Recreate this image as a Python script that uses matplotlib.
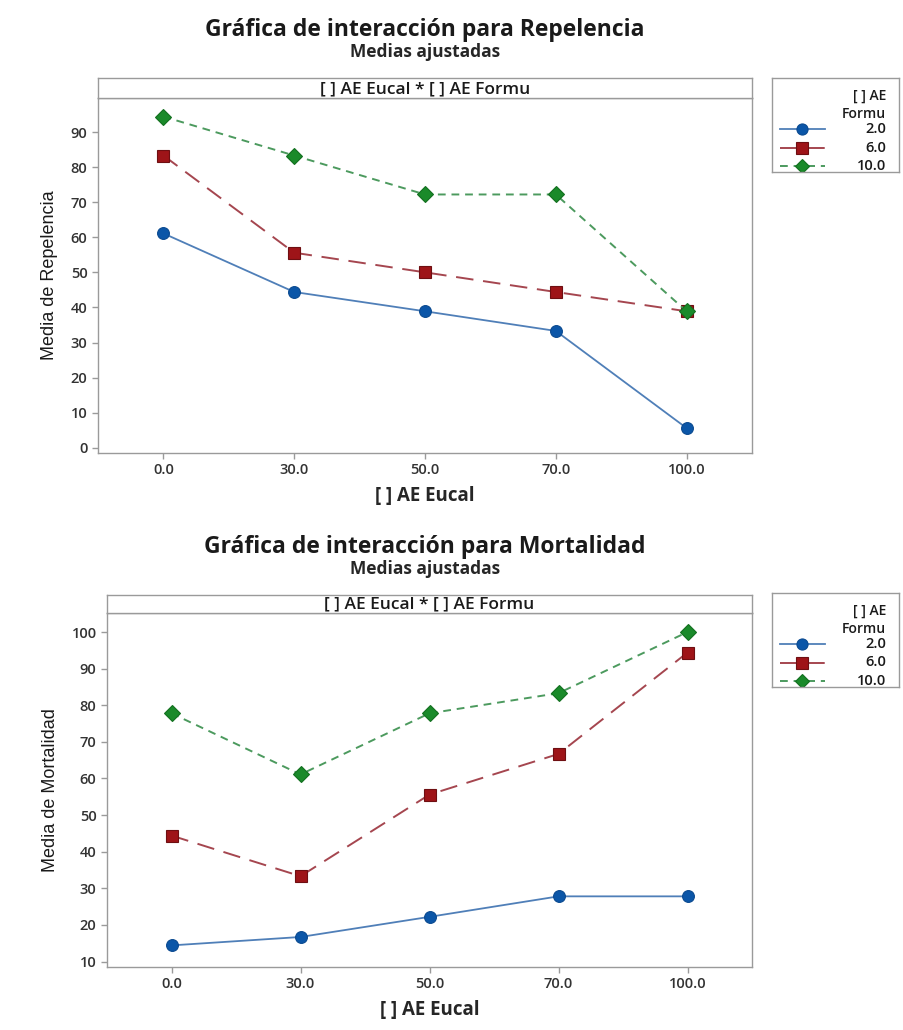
import matplotlib
matplotlib.use("Agg")
import matplotlib.pyplot as plt
from matplotlib.lines import Line2D

# ---- data ----
eucal_labels = ["0.0", "30.0", "50.0", "70.0", "100.0"]
formu_labels = ["2.0", "6.0", "10.0"]

repel_2 = [61.1, 44.4, 38.9, 33.3, 5.6]
repel_6 = [83.3, 55.6, 50.0, 44.4, 38.9]
repel_10 = [94.4, 83.3, 72.2, 72.2, 38.9]

mort_2 = [14.4, 16.7, 22.2, 27.8, 27.8]
mort_6 = [44.4, 33.3, 55.6, 66.7, 94.4]
mort_10 = [77.8, 61.1, 77.8, 83.3, 100.0]

repel_ticks = [0, 10, 20, 30, 40, 50, 60, 70, 80, 90]
mort_ticks = [10, 20, 30, 40, 50, 60, 70, 80, 90, 100]

W, H = 904, 1030
fig = plt.figure(figsize=(W / 100, H / 100), dpi=100)
FONT = ["Open Sans", "DejaVu Sans"]
plt.rcParams["font.family"] = FONT

GRAY = "#9a9a9a"
TXT = "#333333"

styles = [
    dict(color="#4f7fb8", ls="-", lw=1.3, marker="o", ms=8.5, mfc="#0b56a8", mec="#0b4a90"),
    dict(color="#a5464f", ls=(0, (9, 5)), lw=1.4, marker="s", ms=8.5, mfc="#9e1418", mec="#6e0f12"),
    dict(color="#4c9a5e", ls=(0, (4, 3)), lw=1.4, marker="D", ms=8, mfc="#1a8a2a", mec="#137020"),
]


def px_axes(l, t, r, b):
    return fig.add_axes([l / W, 1 - b / H, (r - l) / W, (b - t) / H])


def panel(top_y, hdr_top, hdr_bot, ax_left, ax_bot, series, ticks, ylim, ylabel, title):
    fig.text(425 / W, 1 - top_y / H, title, ha="center", va="center",
             fontsize=16.5, fontweight="bold", color="#1a1a1a")
    fig.text(425 / W, 1 - (top_y + 22) / H, "Medias ajustadas", ha="center", va="center",
             fontsize=12.5, fontweight="bold", color="#262626")
    # main axes
    ax = px_axes(ax_left, hdr_bot, 752, ax_bot)
    x = list(range(1, len(eucal_labels) + 1))
    for vals, st in zip(series, styles):
        ax.plot(x, vals, color=st["color"], linestyle=st["ls"], linewidth=st["lw"],
                marker=st["marker"], markersize=st["ms"], markerfacecolor=st["mfc"],
                markeredgecolor=st["mec"], markeredgewidth=0.8)
    ax.set_xlim(0.5, 5.5)
    ax.set_ylim(*ylim)
    ax.set_xticks(x)
    ax.set_xticklabels(eucal_labels)
    ax.set_yticks(ticks)
    for s in ax.spines.values():
        s.set_color(GRAY); s.set_linewidth(1.0)
    ax.tick_params(axis="both", colors=GRAY, labelcolor=TXT, labelsize=10.5, length=4, width=1)
    for lab in ax.get_xticklabels() + ax.get_yticklabels():
        lab.set_fontweight("semibold")
    ax.set_ylabel(ylabel, fontsize=13, color="#1a1a1a", family=["Liberation Sans", "DejaVu Sans"], labelpad=9)
    ax.set_xlabel("[ ] AE Eucal", fontsize=13.5, fontweight="bold", color="#262626", labelpad=6)
    # header strip
    hax = px_axes(ax_left, hdr_top, 752, hdr_bot)
    hax.set_xticks([]); hax.set_yticks([])
    for s in hax.spines.values():
        s.set_color(GRAY); s.set_linewidth(1.0)
    hax.text(0.5, 0.45, "[ ] AE Eucal * [ ] AE Formu", ha="center", va="center",
             fontsize=12.5, fontweight="semibold", color="#1a1a1a", transform=hax.transAxes)
    return ax


def legend(top):
    lax = px_axes(772, top, 899, top + 94)
    lax.set_xlim(0, 127)
    lax.set_ylim(94, 0)
    lax.set_xticks([]); lax.set_yticks([])
    for s in lax.spines.values():
        s.set_color(GRAY); s.set_linewidth(1.0)
    lax.text(114, 18, "[ ] AE", ha="right", va="center", fontsize=10, fontweight="semibold", color="#1a1a1a")
    lax.text(114, 36, "Formu", ha="right", va="center", fontsize=10, fontweight="semibold", color="#1a1a1a")
    for i, (lab, st) in enumerate(zip(formu_labels, styles)):
        yy = 51 + i * 18.5
        lax.add_line(Line2D([8, 53], [yy, yy], color=st["color"], linestyle=st["ls"],
                            linewidth=st["lw"]))
        lax.add_line(Line2D([30.5], [yy], marker=st["marker"], markersize=st["ms"] - 0.5,
                            markerfacecolor=st["mfc"], markeredgecolor=st["mec"],
                            markeredgewidth=0.8, linestyle="none"))
        lax.text(114, yy, lab, ha="right", va="center", fontsize=10.5, fontweight="semibold", color="#1a1a1a")


panel(30, 78, 98, 98, 453, [repel_2, repel_6, repel_10], repel_ticks, (-1.5, 99.7),
      "Media de Repelencia", "Gráfica de interacción para Repelencia")
legend(78)
panel(547, 595, 613, 107, 967, [mort_2, mort_6, mort_10], mort_ticks, (8.5, 105.2),
      "Media de Mortalidad", "Gráfica de interacción para Mortalidad")
legend(593)

fig.savefig("out.png", dpi=100)
